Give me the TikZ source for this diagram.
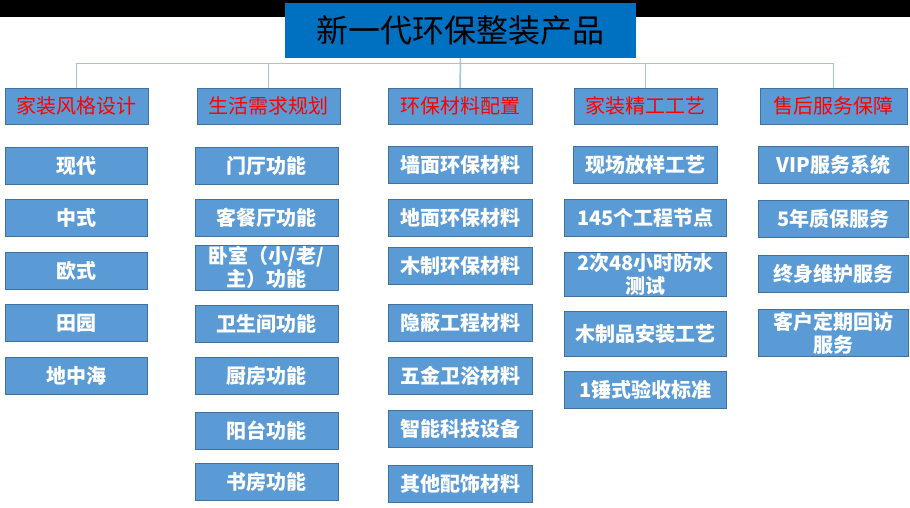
\documentclass[tikz,border=0pt]{standalone}
\usepackage{fontspec}
\setmainfont{Noto Sans CJK SC}
\usetikzlibrary{positioning,calc}
\definecolor{titleblue}{HTML}{0070C0}
\definecolor{boxblue}{HTML}{5B9BD5}
\definecolor{boxedge}{HTML}{41719C}
\definecolor{wireblue}{HTML}{9DC3E6}
\definecolor{headred}{HTML}{FF0000}
\tikzset{
	org title/.style={fill=titleblue,minimum width=351,minimum height=55,inner sep=0pt,outer sep=0pt,
		font=\fontsize{32}{36}\selectfont,text=black},
	org head/.style={fill=boxblue,draw=boxedge,line width=.8pt,minimum width=143,minimum height=36,
		inner sep=1pt,outer sep=0pt,font=\fontsize{20}{24}\selectfont,text=headred},
	org item/.style={fill=boxblue,draw=boxedge,line width=.8pt,minimum width=143,minimum height=37,
		inner sep=1pt,outer sep=0pt,align=center,font=\fontsize{20}{23}\selectfont\bfseries,text=white},
	org wire/.style={draw=wireblue,line width=1.5pt}
}

\begin{document}
\begin{tikzpicture}[x=1pt,y=1pt]
      \useasboundingbox (0,0) rectangle (910,-508);
      \fill[black] (0,0) rectangle (910,-17);
      \node [org title] (top) at (460.5,-30.5) {新一代环保整装产品};
      \coordinate (bar) at (0,-63.5);
      % five branches
      \node [org head] (style) at (76.5,-106) {家装风格设计};
      \node [org head] (life) at (268.5,-106) {生活需求规划};
      \node [org head, minimum width=144] (mat) at (460,-106) {环保材料配置};
      \node [org head] (craft) at (645.5,-106) {家装精工工艺};
      \node [org head, minimum width=147] (svc) at (833.5,-106) {售后服务保障};
      \draw [org wire] (top.south) -- (mat.north);
      \draw [org wire] (style.north) |- (svc.north |- bar) -- (svc.north);
      \draw [org wire] (life.north) -- (life.north |- bar);
      \draw [org wire] (craft.north) -- (craft.north |- bar);
      % style column
      \node [org item, minimum width=142, below=23.3pt of style] (s1) {现代};
      \node [org item, minimum width=142, below=15.5pt of s1] (s2) {中式};
      \node [org item, minimum width=142, below=15.5pt of s2] (s3) {欧式};
      \node [org item, minimum width=142, below=15.5pt of s3] (s4) {田园};
      \node [org item, minimum width=142, below=15.5pt of s4] (s5) {地中海};
      % life column
      \node [org item, below=23.3pt of life, xshift=-2pt] (l1) {门厅功能};
      \node [org item, below=15.3pt of l1] (l2) {客餐厅功能};
      \node [org item, minimum height=45, below=8.3pt of l2] (l3) {卧室（小/老/\\主）功能};
      \node [org item, below=15.3pt of l3] (l4) {卫生间功能};
      \node [org item, below=15.6pt of l4] (l5) {厨房功能};
      \node [org item, below=17.4pt of l5] (l6) {阳台功能};
      \node [org item, below=14.4pt of l6] (l7) {书房功能};
      % material column
      \node [org item, minimum width=144, below=22.7pt of mat] (m1) {墙面环保材料};
      \node [org item, minimum width=144, below=15.3pt of m1] (m2) {地面环保材料};
      \node [org item, minimum width=144, below=11.6pt of m2] (m3) {木制环保材料};
      \node [org item, minimum width=144, below=19.3pt of m3] (m4) {隐蔽工程材料};
      \node [org item, minimum width=144, below=16.6pt of m4] (m5) {五金卫浴材料};
      \node [org item, minimum width=144, below=15.7pt of m5] (m6) {智能科技设备};
      \node [org item, minimum width=144, below=18.4pt of m6] (m7) {其他配饰材料};
      % craft column
      \node [org item, minimum width=144, below=22.7pt of craft] (c1) {现场放样工艺};
      \node [org item, minimum width=162, below=15.3pt of c1] (c2) {145个工程节点};
      \node [org item, minimum width=162, minimum height=44.6, below=16pt of c2] (c3) {2次48小时防水\\测试};
      \node [org item, minimum width=162, minimum height=44.4, below=15pt of c3] (c4) {木制品安装工艺};
      \node [org item, minimum width=162, below=15pt of c4] (c5) {1锤式验收标准};
      % service column
      \node [org item, minimum width=150, below=22.7pt of svc] (v1) {VIP服务系统};
      \node [org item, minimum width=150, below=17pt of v1] (v2) {5年质保服务};
      \node [org item, minimum width=150, below=17.7pt of v2] (v3) {终身维护服务};
      \node [org item, minimum width=150, minimum height=46.7, below=17.3pt of v3] (v4) {客户定期回访\\服务};
\end{tikzpicture}
\end{document}
